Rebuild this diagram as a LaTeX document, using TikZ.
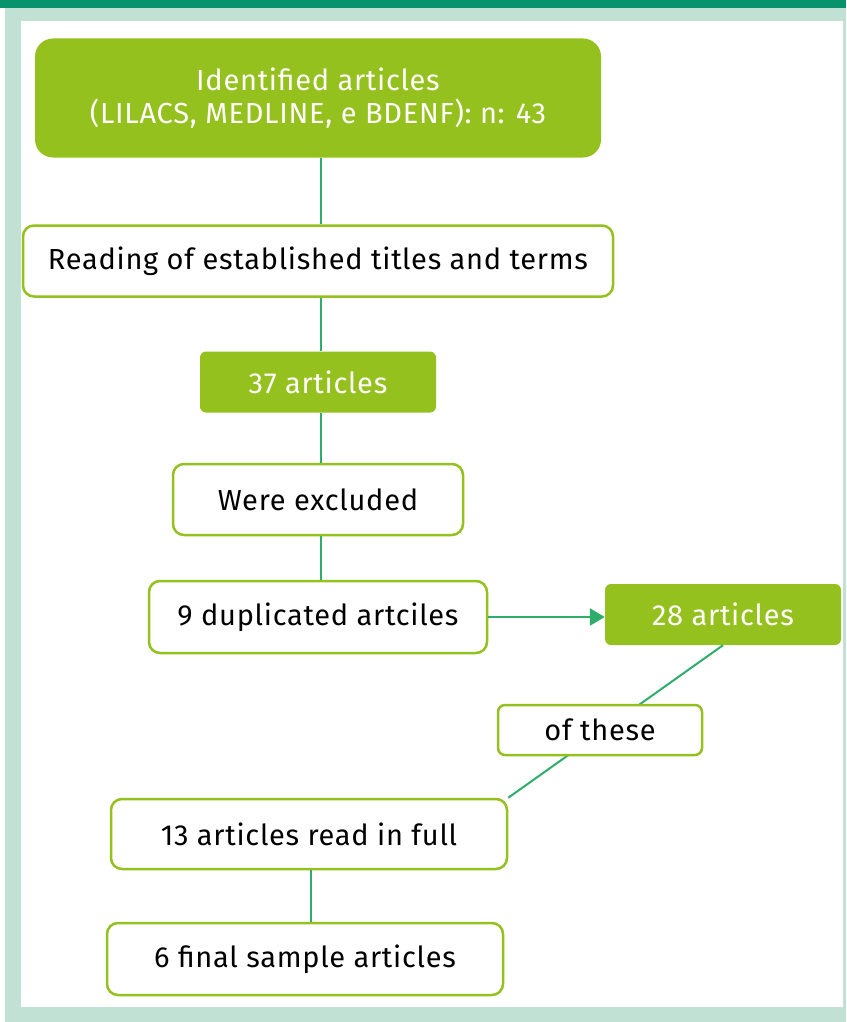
\documentclass[tikz,border=0pt]{standalone}
\usepackage{fontspec}
\setmainfont{Fira Sans}[LetterSpace=2.5]
\usepackage{xcolor}
\definecolor{barteal}{RGB}{7,147,108}
\definecolor{framemint}{RGB}{192,225,212}
\definecolor{leafgreen}{RGB}{149,193,31}
\definecolor{linkgreen}{RGB}{46,173,107}
\usetikzlibrary{arrows.meta,positioning,calc}

\begin{document}
\begin{tikzpicture}[x=1pt,y=-1pt,
  greenbox/.style={fill=leafgreen, draw=none, rounded corners=9pt, text=white, align=center, inner sep=0pt},
  whitebox/.style={fill=white, draw=leafgreen, line width=2.5pt, rounded corners=11pt, text=black, align=center, inner sep=0pt},
  link/.style={draw=linkgreen, line width=2.5pt},
  font=\fontsize{29}{33}\selectfont]
  % Frame
  \useasboundingbox (0,0) rectangle (846,1022);
  \fill[framemint] (5,8) rectangle (846,1022);
  \fill[barteal] (0,0) rectangle (846,8);
  \fill[white] (21,21) rectangle (843,1007);
  % Boxes
  \node[greenbox, rounded corners=18pt, minimum width=566pt, minimum height=119pt] (ident) at (318,98)
    {Identified articles\\(LILACS, MEDLINE, e BDENF): n: 43};
  \node[whitebox, minimum width=590pt, minimum height=71pt] (reading) at (318,261)
    {Reading of established titles and terms};
  \node[greenbox, rounded corners=6pt, minimum width=236pt, minimum height=61pt] (art37) at (318,382) {37 articles};
  \node[whitebox, minimum width=290pt, minimum height=71pt] (excl) at (318,499.5) {Were excluded};
  \node[whitebox, minimum width=338pt, minimum height=72pt] (dupl) at (318,617) {9 duplicated artciles};
  \node[greenbox, rounded corners=6pt, minimum width=236pt, minimum height=61pt] (art28) at (723,614.5) {28 articles};
  \node[whitebox, minimum width=396pt, minimum height=70pt] (full) at (309,834) {13 articles read in full};
  \node[whitebox, minimum width=396pt, minimum height=72pt] (final) at (305,959) {6 final sample articles};
  % Connectors
  \draw[link] ([xshift=3pt]ident.south) -- ([xshift=3pt]reading.north);
  \draw[link] ([xshift=3pt]reading.south) -- ([xshift=3pt]art37.north);
  \draw[link] ([xshift=3pt]art37.south) -- ([xshift=3pt]excl.north);
  \draw[link] ([xshift=3pt]excl.south) -- ([xshift=3pt]dupl.north);
  \draw[link, -{Triangle[length=15pt,width=17pt]}] (dupl.east) -- (dupl.east -| art28.west);
  \draw[link, line width=2pt] (art28.south) -- (full.north east);
  \draw[link] ([xshift=2pt]full.south) -- ([xshift=2pt]full.south |- final.north);
  % Label box on the diagonal
  \node[whitebox, rounded corners=7pt, minimum width=204pt, minimum height=50pt] (these) at (600,730) {of these};
\end{tikzpicture}
\end{document}
